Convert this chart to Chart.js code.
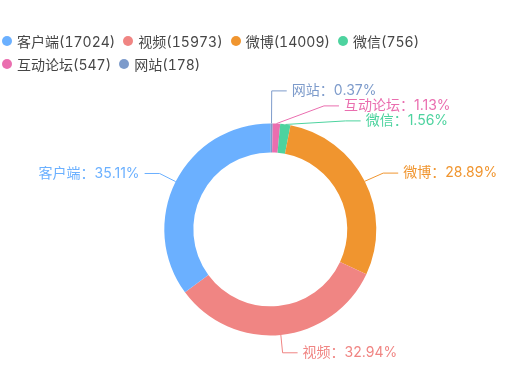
<!DOCTYPE html>
<html>
<head>
<meta charset="utf-8">
<script src="https://cdn.jsdelivr.net/npm/chart.js@4.4.1/dist/chart.umd.min.js"></script>
<style>
    html, body { margin: 0; padding: 0; background: #fff; }
    #wrap { position: relative; width: 510px; height: 376px; overflow: hidden; }
    #chart { position: absolute; left: 0; top: 0; }
    #legend {
        position: absolute; left: 2px; top: 29px; width: 506px;
        display: flex; flex-wrap: wrap;
        font: 14px Inter, "Noto Sans CJK SC", sans-serif; color: #464646;
        font-variant-numeric: tabular-nums;
    }
    .item { display: flex; align-items: center; height: 23px; margin-right: 8px; }
    .dot { width: 10px; height: 10px; border-radius: 50%; margin-right: 5px; }
</style>
</head>
<body>
<div id="wrap">
    <canvas id="chart" width="510" height="376"></canvas>
    <div id="legend"></div>
</div>
<script>
// --- Data ---
const categories = ['客户端', '视频', '微博', '微信', '互动论坛', '网站'];
const counts = [17024, 15973, 14009, 756, 547, 178];
const colors = ['#6bb0ff', '#f08583', '#f0952f', '#4dd39f', '#ea6eaf', '#7d9bcb'];

const total = counts.reduce((s, v) => s + v, 0);
const percents = counts.map(v => (v / total * 100).toFixed(2));

// --- Legend (original order) ---
const legendEl = document.getElementById('legend');
categories.forEach((name, i) => {
    const item = document.createElement('div');
    item.className = 'item';
    item.innerHTML = `<span class="dot" style="background:${colors[i]}"></span><span>${name}(${counts[i]})</span>`;
    legendEl.appendChild(item);
});

// slices run counter-clockwise in the reference, so feed them reversed
const order = categories.map((_, i) => i).reverse();

const LEN = 18;      // first leader segment
const LEN2 = 15;     // horizontal leader segment
const DIST = 5;      // gap between leader and text
const LINE_H = 15;   // min vertical gap between labels
const CURVE_PAD = 5; // extra width of the ellipse used to re-align shifted labels

/**
 * Spreads overlapping labels on one side around the mean of their wanted y.
 */
function spreadLabels(list) {
    list.sort((a, b) => a.y0 - b.y0);
    let groups = list.map(it => ({ items: [it], center: it.y0 }));
    let merged = true;
    while (merged) {
        merged = false;
        for (let k = 0; k < groups.length - 1; k++) {
            const a = groups[k], b = groups[k + 1];
            const aBottom = a.center + (a.items.length - 1) * LINE_H / 2;
            const bTop = b.center - (b.items.length - 1) * LINE_H / 2;
            if (bTop - aBottom < LINE_H) {
                const items = a.items.concat(b.items);
                const center = items.reduce((s, it) => s + it.y0, 0) / items.length;
                groups.splice(k, 2, { items, center });
                merged = true;
                break;
            }
        }
    }
    groups.forEach(g => g.items.forEach((it, j) => {
        it.y = g.center + (j - (g.items.length - 1) / 2) * LINE_H;
    }));
    return list.some(it => Math.abs(it.y - it.y0) > 0.5);
}

/**
 * After a shift, put the label x back on an ellipse through the outermost label.
 */
function realignX(list, cx, cy, r, dir) {
    [list.filter(it => it.y <= cy), list.filter(it => it.y > cy)].forEach(semi => {
        if (!semi.length) return;
        const rA = r + LEN + CURVE_PAD;
        let rB = rA, maxY = -1;
        semi.forEach(it => {
            const dy = Math.abs(it.y - cy);
            if (dy >= maxY) {
                const dx = it.textX - cx - LEN2 * dir;
                rB = Math.abs(dx) < rA ? Math.sqrt(dy * dy / (1 - dx * dx / rA / rA)) : rA;
                maxY = dy;
            }
        });
        semi.forEach(it => {
            const dy = Math.abs(it.y - cy);
            const dx = Math.sqrt(Math.max(0, 1 - dy * dy / (rB * rB)) * rA * rA);
            it.textX = cx + (dx + LEN2) * dir;
        });
    });
}

const outerLabels = {
    id: 'outerLabels',
    afterDatasetsDraw(chart) {
        const meta = chart.getDatasetMeta(0);
        const ctx = chart.ctx;
        let cx = 0, cy = 0, r = 0;
        const items = meta.data.map((arc, k) => {
            const p = arc.getProps(['x', 'y', 'startAngle', 'endAngle', 'outerRadius'], true);
            cx = p.x; cy = p.y; r = p.outerRadius;
            const mid = (p.startAngle + p.endAngle) / 2;
            const cos = Math.cos(mid), sin = Math.sin(mid);
            const dir = cos < 0 ? -1 : 1;
            const x2 = p.x + (p.outerRadius + LEN) * cos;
            const y2 = p.y + (p.outerRadius + LEN) * sin;
            const idx = order[k];
            return {
                idx, dir,
                x1: p.x + p.outerRadius * cos, y1: p.y + p.outerRadius * sin,
                y0: y2, y: y2,
                textX: x2 + dir * (LEN2 + DIST)
            };
        });

        [1, -1].forEach(dir => {
            const side = items.filter(it => it.dir === dir);
            if (spreadLabels(side)) realignX(side, cx, cy, r, dir);
        });

        ctx.save();
        ctx.font = '14px Inter, "Noto Sans CJK SC", sans-serif';
        ctx.textBaseline = 'middle';
        ctx.lineWidth = 1;
        items.forEach(it => {
            const color = colors[it.idx];
            const endX = it.textX - it.dir * DIST;
            const elbowX = endX - it.dir * LEN2;
            ctx.strokeStyle = color;
            ctx.beginPath();
            ctx.moveTo(it.x1, it.y1);
            ctx.lineTo(elbowX, it.y);
            ctx.lineTo(endX, it.y);
            ctx.stroke();
            ctx.fillStyle = color;
            ctx.textAlign = it.dir > 0 ? 'left' : 'right';
            ctx.fillText(`${categories[it.idx]}：${percents[it.idx]}%`, it.textX, it.y);
        });
        ctx.restore();
    }
};

new Chart(document.getElementById('chart'), {
    type: 'doughnut',
    data: {
        labels: order.map(i => categories[i]),
        datasets: [{
            data: order.map(i => counts[i]),
            backgroundColor: order.map(i => colors[i]),
            borderWidth: 0,
            radius: 106,
            cutout: '72.6%'
        }]
    },
    options: {
        responsive: false,
        animation: false,
        layout: { padding: { left: 30.6, right: 0, top: 82.8, bottom: 0 } },
        plugins: {
            legend: { display: false },
            tooltip: { enabled: false }
        }
    },
    plugins: [outerLabels]
});
</script>
</body>
</html>
